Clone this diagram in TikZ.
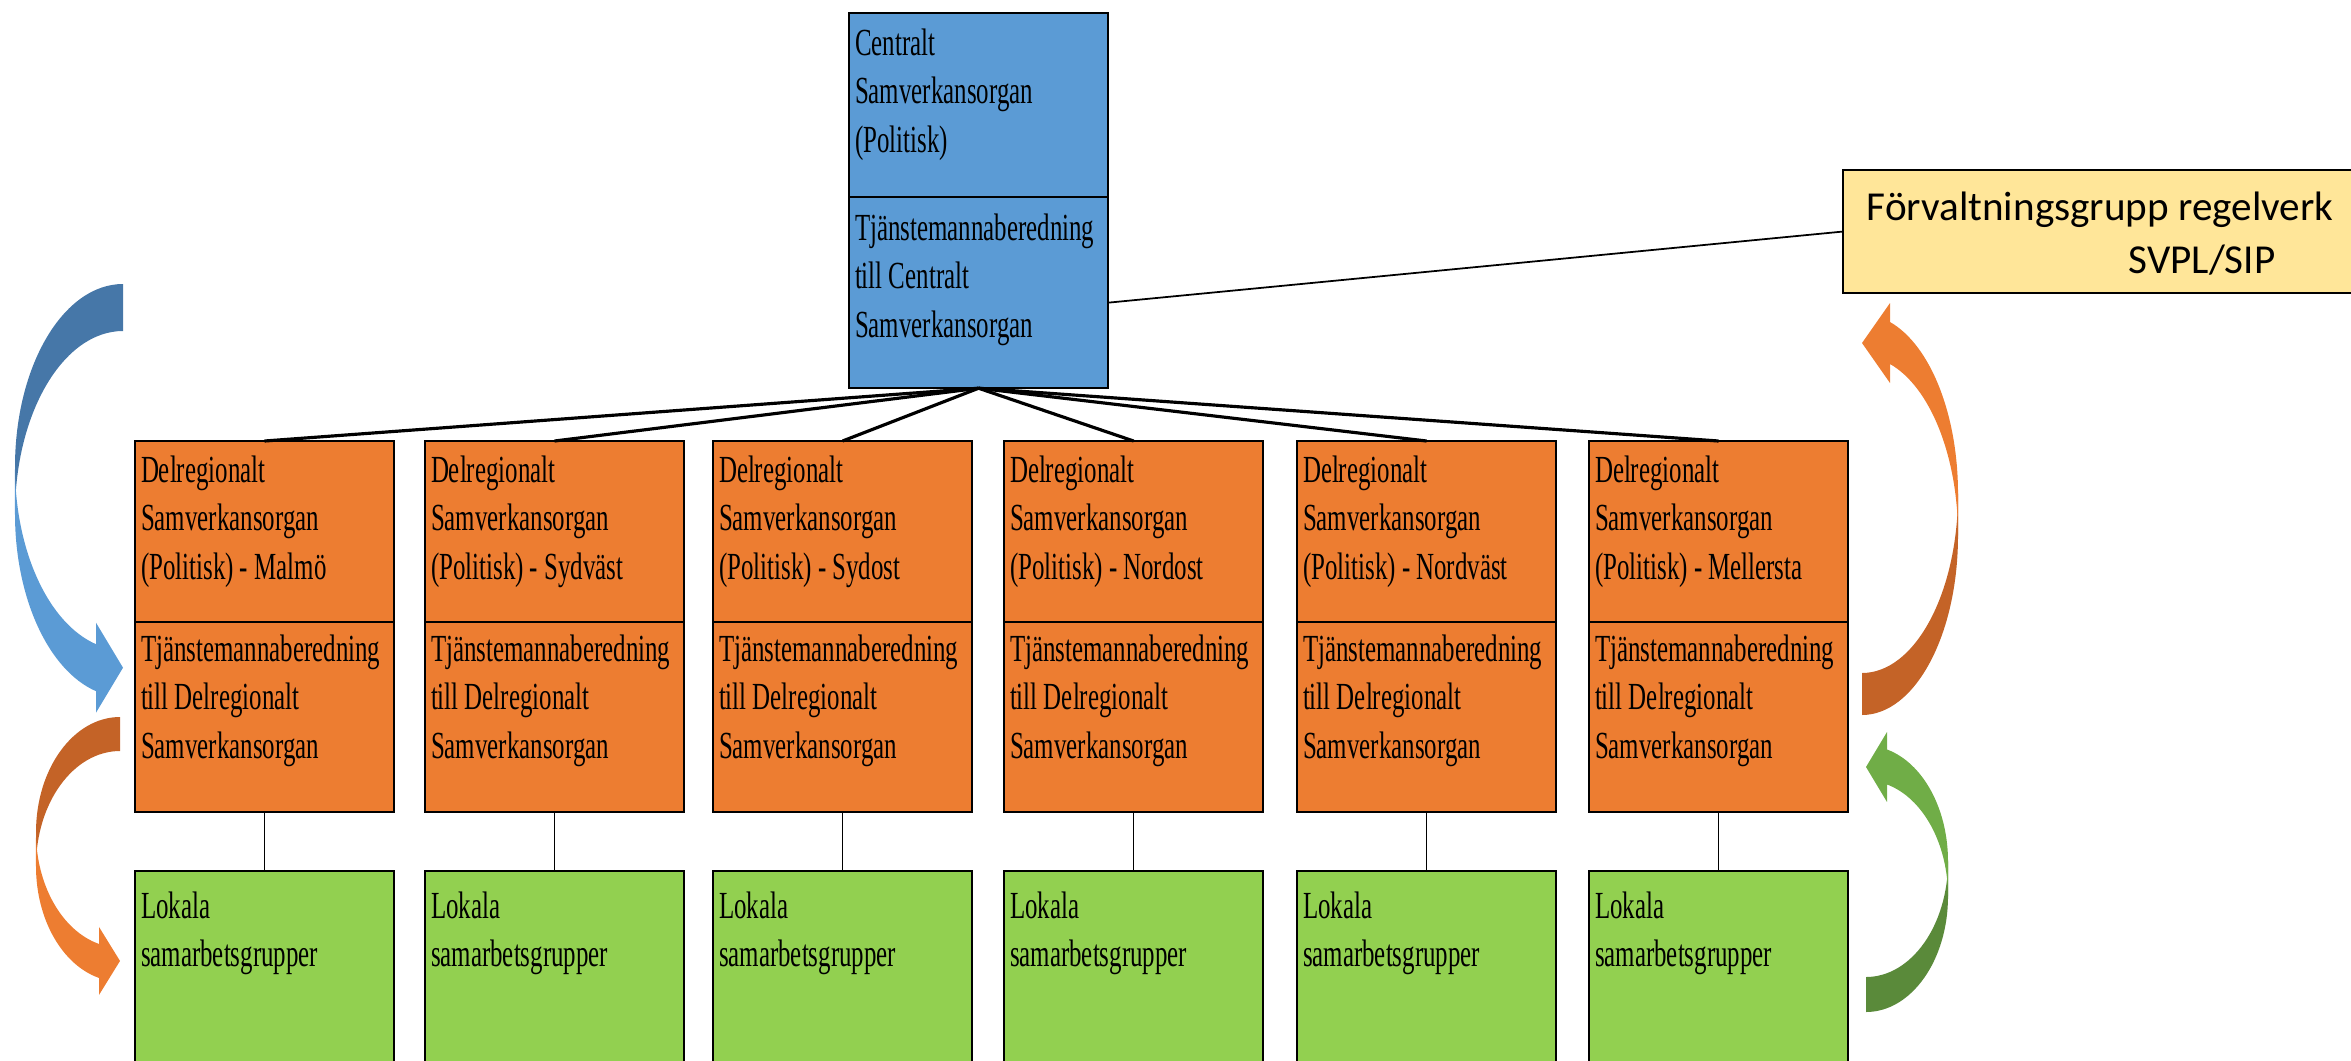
\documentclass[tikz,border=0pt]{standalone}
\usepackage{fontspec}
\usetikzlibrary{positioning}
\newfontfamily\boxfont[FakeStretch=0.65]{Liberation Serif}
\newfontfamily\frvfont{Carlito}
\definecolor{cenblue}{HTML}{5B9BD5}
\definecolor{delorange}{HTML}{ED7D31}
\definecolor{lokgreen}{HTML}{92D050}
\definecolor{frvyellow}{HTML}{FFE699}
\definecolor{arrblue}{HTML}{5B9BD5}
\definecolor{arrbluedk}{HTML}{4677A8}
\definecolor{arrorange}{HTML}{ED7D31}
\definecolor{arrorangedk}{HTML}{C46327}
\definecolor{arrgreen}{HTML}{70AD47}
\definecolor{arrgreendk}{HTML}{5A8A3A}
% box text: height, first baseline, lines
\newcommand{\boxtext}[3]{\parbox[t][#1][t]{2.47cm}{\raggedright\boxfont\fontsize{10.9pt}{13.8pt}\selectfont\rule{0pt}{#2}#3}}
% curved block arrow: x radius, y radius, thickness, head length, head half width, dark, light
\newcommand{\curvarrow}[7]{%
  \pgfmathsetmacro{\arrtb}{acos(-#4/#1)}%
  \pgfmathsetmacro{\arrya}{#2+#2*sin(\arrtb)}%
  \pgfmathsetmacro{\arrym}{\arrya+#3/2}%
  \fill[#6] (0,0) arc[start angle=270, end angle=180, x radius=#1, y radius=#2]
    -- ++(0,#3) arc[start angle=180, end angle=270, x radius=#1, y radius=#2] -- cycle;
  \fill[#7] (-#1,#2) arc[start angle=180, end angle=\arrtb, x radius=#1, y radius=#2]
    -- (-#4,\arrym-#5) -- (0,\arrym) -- (-#4,\arrym+#5) -- (-#4,\arrya+#3)
    arc[start angle=\arrtb, end angle=180, x radius=#1, y radius=#2] -- cycle;
}
\begin{document}
\begin{tikzpicture}[x=0.01cm, y=-0.01cm,
    box/.style={draw, line width=0.7pt, inner xsep=0.06cm, inner ysep=0pt, outer sep=0pt},
    cenbox/.style={box, fill=cenblue},
    delbox/.style={box, fill=delorange},
    lokbox/.style={box, fill=lokgreen},
    link/.style={line width=0.9pt},
    thin link/.style={line width=0.5pt}]
  \useasboundingbox (0,0) rectangle (2351,1060);
  \clip (0,0) rectangle (2351,1060);

  % curved arrows
  \begin{scope}[shift={(123,284)}]
    \curvarrow{108}{183}{47}{27}{45}{arrbluedk}{arrblue}
  \end{scope}
  \begin{scope}[shift={(120,717)}]
    \curvarrow{84}{115.3}{34}{21}{34}{arrorangedk}{arrorange}
  \end{scope}
  \begin{scope}[shift={(1862,715)}, rotate=180]
    \curvarrow{96}{179.4}{42}{28}{40}{arrorangedk}{arrorange}
  \end{scope}
  \begin{scope}[shift={(1866,1012)}, rotate=180]
    \curvarrow{82}{115.7}{35}{21}{35}{arrgreendk}{arrgreen}
  \end{scope}

  % central body
  \node[cenbox, anchor=north west] (cen1) at (849,13)
    {\boxtext{1.84cm}{0.42cm}{Centralt\\Samverkansorgan\\(Politisk)}};
  \node[cenbox, below=0cm of cen1] (cen2)
    {\boxtext{1.91cm}{0.43cm}{Tjänstemannaberedning\\till Centralt\\Samverkansorgan}};

  % regelverk group
  \node[draw, fill=frvyellow, line width=0.7pt, inner sep=0pt, outer sep=0pt,
    anchor=north west, minimum width=5.6cm, minimum height=1.23cm] (frv) at (1843,170) {};
  \node[anchor=base west, inner sep=0pt, font=\frvfont\fontsize{11.7pt}{14pt}\selectfont]
    (frv1) at (1866,220) {Förvaltningsgrupp regelverk};
  \node[anchor=base, inner sep=0pt, font=\frvfont\fontsize{11.7pt}{14pt}\selectfont]
    (frv2) at (2202,273) {SVPL/SIP};
  \draw[thin link] ([yshift=-0.1cm]cen2.east) -- (frv.west);

  % delregional bodies and local groups
  \foreach \x/\reg [count=\i] in {135/Malmö, 425/Sydväst, 713/Sydost, 1004/Nordost, 1297/Nordväst, 1589/Mellersta} {
    \node[delbox, anchor=north west] (del\i) at (\x,441)
      {\boxtext{1.81cm}{0.41cm}{Delregionalt\\Samverkansorgan\\(Politisk) - \reg}};
    \node[delbox, below=0cm of del\i] (tjd\i)
      {\boxtext{1.90cm}{0.39cm}{Tjänstemannaberedning\\till Delregionalt\\Samverkansorgan}};
    \node[lokbox, below=0.59cm of tjd\i] (lok\i)
      {\boxtext{2.1cm}{0.47cm}{Lokala\\samarbetsgrupper}};
    \draw[link] (cen2.south) -- (del\i.north);
    \draw[thin link] (tjd\i) -- (lok\i);
  }
\end{tikzpicture}
\end{document}
